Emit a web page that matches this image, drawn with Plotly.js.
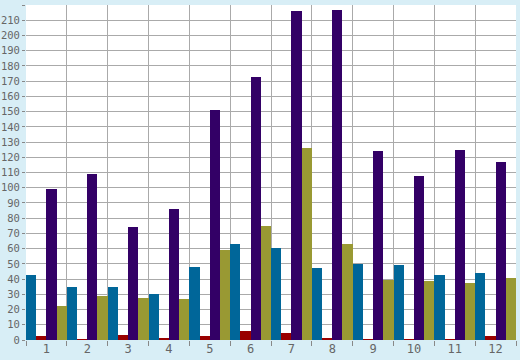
<!DOCTYPE html>
<html>
<head>
<meta charset="utf-8">
<script src="https://cdn.plot.ly/plotly-3.0.1.min.js"></script>
<style>html,body{margin:0;padding:0;background:#d8eef6;}#chart{width:520px;height:360px;}</style>
</head>
<body>
<div id="chart"></div>
<script>
var categories = ['1','2','3','4','5','6','7','8','9','10','11','12'];
var seriesBlue = [43, 35, 35, 30, 48, 63, 60.5, 47.5, 50, 49, 42.5, 44];
var seriesRed = [2.6, 0.8, 3.3, 1.5, 2.6, 5.9, 4.6, 1.3, 0.5, 0.5, 0.5, 2.6];
var seriesPurple = [99, 109, 74, 86, 151, 173, 216, 217, 124, 108, 125, 117];
var seriesOlive = [22.3, 29, 27.6, 27, 59, 75, 126, 63, 39.5, 38.8, 37.4, 40.7];

function bar(y, color) {
  return {type: 'bar', x: categories, y: y, marker: {color: color, line: {width: 0}}, hoverinfo: 'none'};
}
var data = [
  bar(seriesBlue, '#006699'),
  bar(seriesRed, '#990000'),
  bar(seriesPurple, '#330066'),
  bar(seriesOlive, '#999933')
];
var yFont = {family: 'DejaVu Sans Mono, monospace', size: 10.5, color: '#666666'};
var xFont = {family: 'DejaVu Sans Mono, monospace', size: 12, color: '#666666'};
var layout = {
  width: 520, height: 360,
  margin: {l: 26, r: 4, t: 5, b: 20, pad: 0},
  paper_bgcolor: '#d8eef6',
  plot_bgcolor: '#ffffff',
  showlegend: false,
  barmode: 'group', bargap: 0, bargroupgap: 0,
  xaxis: {
    type: 'category', tickson: 'boundaries', showgrid: true, gridcolor: '#aaaaaa', gridwidth: 1,
    ticks: 'outside', ticklen: 5, tickcolor: '#888888', tickfont: xFont,
    showline: false, zeroline: false
  },
  yaxis: {
    range: [0, 220], dtick: 10, showgrid: true, gridcolor: '#aaaaaa', gridwidth: 1,
    ticks: 'outside', ticklen: 3, tickcolor: '#888888', tickfont: yFont,
    showline: false, zeroline: false
  }
};
Plotly.newPlot('chart', data, layout, {displayModeBar: false, staticPlot: true});
</script>
</body>
</html>
